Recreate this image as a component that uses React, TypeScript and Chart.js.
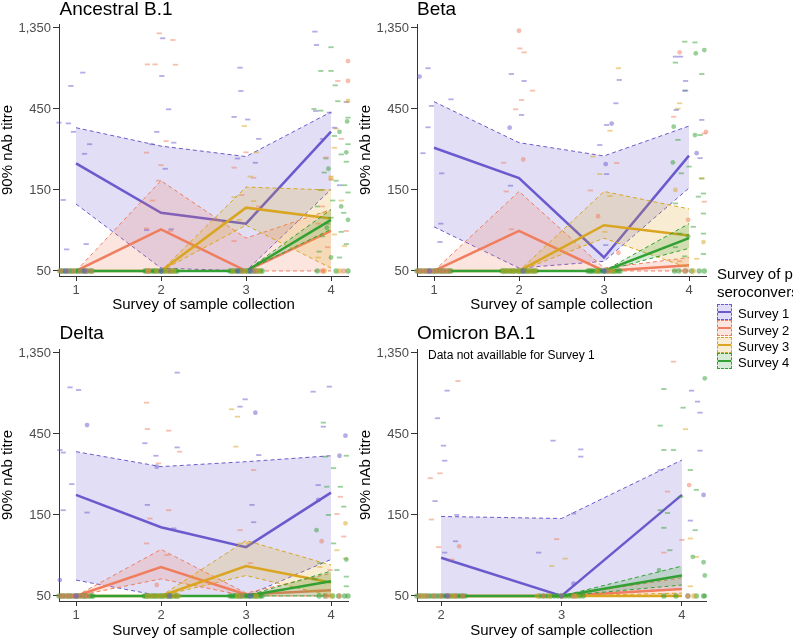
import React, { useEffect, useRef } from 'react';
import { Chart, registerables } from 'chart.js';

Chart.register(...registerables);

const FONT = '"Liberation Sans", Arial, Helvetica, sans-serif';

// ---------- shared labels / ticks ----------
const surveyLabels = ['Survey 1', 'Survey 2', 'Survey 3', 'Survey 4'];
const surveyRGB = ['106,90,205', '240,126,94', '218,165,32', '51,160,51'];
const yTicks = [50, 150, 450, 1350];
const catsFull = [1, 2, 3, 4];
const catsOmicron = [2, 3, 4];
const yMin = 46.7;
const yMax = 1425;

// ---------- Ancestral B.1 ----------
const ancestralMedian = [[215, 110, 95, 331], [50, 88, 50, 86], [50, 50, 118, 102], [50, 50, 50, 100]];
const ancestralUpper = [[349, 272, 236, 432], [50, 170, 78, 115], [50, 50, 156, 150], [50, 50, 50, 115]];
const ancestralLower = [[124, 52, 50, 151], [50, 50, 50, 50], [50, 50, 93, 52], [50, 50, 50, 88]];
const ancestralDashes: [number, number][][] = [
  [[0.80, 374], [0.85, 131], [0.89, 67], [0.91, 370], [0.94, 615], [1.08, 737], [1.12, 72], [1.16, 279], [1.10, 245], [0.97, 330], [1.83, 87], [1.89, 279], [2.01, 704], [2.02, 1174], [2.09, 448], [2.12, 88], [2.15, 285], [1.95, 330], [2.05, 200], [2.86, 404], [2.93, 788], [2.94, 574], [3.02, 390], [3.11, 217], [3.15, 300], [2.90, 230], [3.81, 1285], [3.83, 1072], [3.82, 438], [3.98, 428], [4.04, 349], [4.18, 495], [3.90, 300], [4.10, 160]],
  [[1.84, 824], [1.93, 824], [1.98, 1255], [2.14, 1147], [2.17, 820], [2.06, 291], [1.83, 249], [1.97, 170], [2.11, 86], [1.83, 89], [1.90, 130], [2.00, 210], [2.86, 203], [3.09, 177], [2.86, 75], [3.00, 250], [3.15, 120], [2.95, 140], [4.08, 658], [3.94, 233], [4.00, 173], [4.18, 86], [3.96, 69], [3.90, 120], [4.12, 300], [3.85, 95]],
  [[2.98, 357], [3.09, 129], [2.86, 136], [3.05, 180], [2.92, 100], [3.12, 250], [4.06, 345], [4.04, 266], [4.00, 180], [3.88, 150], [4.04, 82], [4.16, 70], [3.92, 110], [4.12, 130], [3.85, 60]],
  [[4.00, 1040], [3.88, 754], [4.00, 754], [4.08, 500], [3.88, 440], [4.20, 400], [4.04, 312], [4.20, 279], [4.12, 243], [3.94, 230], [4.18, 220], [3.88, 150], [4.20, 145], [4.00, 103], [4.12, 85], [4.18, 72], [3.92, 190], [4.06, 170], [3.84, 120], [3.96, 95], [4.15, 110], [3.90, 80], [4.10, 60], [4.02, 130], [3.86, 65], [4.16, 160], [3.80, 450], [4.05, 620]],
];
const ancestralCircles: [number, number, number][] = [
  [1, 4.20, 862], [1, 4.20, 658], [2, 4.20, 502], [2, 4.00, 175], [3, 3.97, 200], [3, 4.10, 330], [3, 4.18, 250], [3, 3.95, 90], [3, 4.12, 120], [3, 4.20, 100], [3, 4.00, 60], [3, 4.19, 380],
];
const ancestralBaseline = [
  [0.88, 1.10, 2.00, 2.90, 3.05],
  [0.82, 0.90, 0.97, 1.05, 1.12, 1.18, 1.85, 2.10, 2.95, 3.10, 3.90, 4.15],
  [1.85, 1.95, 2.05, 2.15, 2.85, 3.00, 3.15, 3.92, 4.10],
  [0.81, 0.83, 0.85, 0.87, 0.90, 0.92, 0.94, 0.96, 0.99, 1.01, 1.03, 1.05, 1.08, 1.10, 1.12, 1.14, 1.17, 1.19, 1.81, 1.83, 1.85, 1.87, 1.90, 1.92, 1.94, 1.96, 1.99, 2.01, 2.03, 2.05, 2.08, 2.10, 2.12, 2.14, 2.17, 2.19, 2.81, 2.83, 2.85, 2.87, 2.90, 2.92, 2.94, 2.96, 2.99, 3.01, 3.03, 3.05, 3.08, 3.10, 3.12, 3.14, 3.17, 3.19, 3.84, 4.06, 4.20],
];

// ---------- Beta ----------
const betaMedian = [[266, 176, 60, 239], [50, 86, 50, 54], [50, 50, 93, 81], [50, 50, 50, 78]];
const betaUpper = [[497, 285, 238, 357], [50, 147, 52, 60], [50, 50, 147, 116], [50, 50, 50, 95]];
const betaLower = [[91, 52, 57, 154], [50, 50, 50, 50], [50, 50, 78, 52], [50, 50, 50, 68]];
const betaDashes: [number, number][][] = [
  [[0.93, 782], [0.97, 469], [0.87, 247], [0.93, 351], [1.09, 188], [1.08, 95], [1.07, 74], [1.20, 513], [1.91, 723], [2.06, 658], [2.03, 415], [1.90, 159], [2.95, 276], [3.03, 362], [3.14, 486], [3.18, 667], [3.03, 186], [3.02, 71], [3.84, 915], [3.90, 915], [3.96, 658], [4.13, 231], [4.15, 388], [3.95, 577], [3.85, 444]],
  [[2.01, 1023], [2.06, 970], [2.16, 577], [2.03, 508], [1.96, 448], [1.82, 217], [1.85, 147], [1.91, 88], [2.84, 149], [3.15, 216], [3.82, 405], [4.18, 323], [4.18, 128], [3.89, 57]],
  [[3.17, 782], [3.07, 335], [2.95, 186], [3.07, 138], [3.01, 85], [3.89, 486], [3.87, 452], [4.15, 176], [4.09, 59], [2.87, 236]],
  [[3.95, 1121], [4.07, 1110], [3.84, 844], [4.15, 723], [3.96, 577], [4.13, 316], [3.87, 296], [3.91, 188], [4.15, 175], [4.17, 143], [3.84, 125], [4.17, 109], [4.05, 91], [4.17, 83], [3.89, 83], [4.17, 63], [3.84, 69], [3.95, 61], [4.11, 137], [4.00, 206]],
];
const betaCircles: [number, number, number][] = [
  [0, 0.83, 698], [0, 1.89, 349], [0, 3.09, 369], [0, 3.02, 213], [0, 4.09, 247],
  [1, 2.00, 1300], [1, 2.05, 227], [1, 2.93, 105], [1, 3.17, 64], [1, 3.89, 970], [1, 3.99, 100], [1, 4.20, 330],
  [2, 3.84, 150], [2, 4.17, 74],
  [3, 4.18, 1001], [3, 4.08, 957], [3, 3.82, 354], [3, 4.07, 316], [3, 3.81, 218], [3, 3.99, 80],
];
const betaBaseline = [
  [0.95, 2.05, 3.00],
  [0.81, 0.85, 0.89, 0.93, 0.97, 1.01, 1.05, 1.09, 1.13, 1.17, 3.05, 3.95],
  [1.82, 1.88, 1.94, 2.00, 2.06, 2.12, 2.18, 2.92, 3.10, 4.05],
  [0.80, 0.82, 0.84, 0.86, 0.89, 0.91, 0.93, 0.95, 0.98, 1.00, 1.02, 1.04, 1.07, 1.09, 1.11, 1.13, 1.16, 1.18, 1.20, 1.80, 1.82, 1.84, 1.86, 1.89, 1.91, 1.93, 1.95, 1.98, 2.00, 2.02, 2.04, 2.07, 2.09, 2.11, 2.13, 2.16, 2.18, 2.20, 2.81, 2.83, 2.85, 2.87, 2.90, 2.92, 2.94, 2.96, 2.99, 3.01, 3.03, 3.05, 3.08, 3.10, 3.12, 3.14, 3.17, 3.19, 3.83, 3.88, 3.96, 4.03, 4.12, 4.18],
];

// ---------- Delta ----------
const deltaMedian = [[197, 127, 97, 203], [50, 74, 51, 54], [50, 50, 75, 60], [50, 50, 50, 61]];
const deltaUpper = [[354, 289, 309, 335], [50, 94, 52, 68], [50, 50, 106, 76], [50, 50, 50, 70]];
const deltaLower = [[62, 50, 50, 82], [50, 63, 50, 50], [50, 50, 66, 50], [50, 50, 50, 50]];
const deltaDashes: [number, number][][] = [
  [[0.93, 847], [1.03, 817], [0.81, 362], [0.85, 350], [0.95, 228], [0.85, 160], [1.13, 155], [2.19, 1034], [1.81, 397], [1.94, 335], [2.19, 375], [1.84, 172], [2.15, 125], [2.99, 720], [2.93, 652], [3.15, 338], [3.07, 172], [3.09, 136], [3.79, 799], [3.98, 855], [3.91, 497], [3.85, 225]],
  [[1.83, 688], [1.84, 481], [2.09, 471], [2.22, 354], [1.97, 302], [2.09, 160], [1.87, 143], [2.07, 87], [1.83, 102], [2.93, 122], [3.09, 276], [3.05, 78], [4.07, 152], [4.11, 192], [4.15, 112], [3.99, 71]],
  [[2.83, 629], [2.90, 569], [2.88, 379], [2.93, 102], [3.03, 102], [4.07, 93], [4.17, 83], [3.87, 74]],
  [[3.91, 525], [3.93, 331], [4.18, 335], [4.03, 283], [3.95, 220], [4.11, 220], [4.03, 102], [3.97, 150], [4.15, 168], [4.18, 65], [3.87, 78], [4.07, 71], [4.18, 57], [3.81, 63]],
];
const deltaCircles: [number, number, number][] = [
  [0, 1.13, 508], [0, 0.81, 62], [0, 1.95, 289], [0, 3.11, 601], [0, 4.10, 335], [0, 4.17, 440], [0, 3.85, 184],
  [1, 1.95, 58], [1, 3.89, 105],
  [2, 4.17, 134],
  [3, 3.83, 122], [3, 4.18, 82],
];
const deltaBaseline = [
  [1.00, 2.10, 3.05],
  [0.82, 0.86, 0.90, 0.94, 0.98, 1.02, 1.06, 1.10, 1.14, 2.95, 3.95, 4.10],
  [1.84, 1.90, 1.96, 2.02, 2.08, 2.14, 2.20, 2.90, 3.12, 4.00],
  [0.80, 0.82, 0.84, 0.86, 0.89, 0.91, 0.93, 0.95, 0.98, 1.00, 1.02, 1.04, 1.07, 1.09, 1.11, 1.13, 1.16, 1.18, 1.20, 1.80, 1.82, 1.84, 1.86, 1.89, 1.91, 1.93, 1.95, 1.98, 2.00, 2.02, 2.04, 2.07, 2.09, 2.11, 2.13, 2.16, 2.18, 2.20, 2.81, 2.83, 2.85, 2.87, 2.90, 2.92, 2.94, 2.96, 2.99, 3.01, 3.03, 3.05, 3.08, 3.10, 3.12, 3.14, 3.17, 3.19, 3.86, 3.93, 4.02, 4.09, 4.16, 4.20],
];

// ---------- Omicron BA.1 ----------
const omicronMedian = [[84, 50, 197], [50, 50, 55], [50, 50, 50], [50, 50, 66]];
const omicronUpper = [[147, 143, 316], [50, 50, 64], [50, 50, 52], [50, 50, 75]];
const omicronLower = [[50, 50, 55], [50, 50, 50], [50, 50, 50], [50, 50, 58]];
const omicronDashes: [number, number][][] = [
  [[2.05, 810], [1.97, 557], [2.02, 384], [2.03, 313], [1.95, 181], [2.13, 150], [2.12, 105], [2.03, 90], [2.93, 411], [3.16, 365], [3.16, 331], [3.10, 153], [2.81, 90], [4.08, 810], [4.13, 698], [4.15, 601], [4.15, 359], [3.82, 276], [4.07, 139]],
  [[2.14, 923], [1.91, 247], [1.99, 264], [1.92, 141], [1.98, 97], [2.09, 82], [2.96, 108], [3.93, 1200], [3.88, 206], [4.00, 107], [3.85, 90]],
  [[2.92, 75], [3.03, 83], [4.03, 480], [4.07, 109], [4.12, 85], [4.07, 57]],
  [[3.85, 829], [4.01, 643], [3.82, 504], [3.85, 362], [3.93, 362], [4.07, 276], [4.12, 211], [3.99, 192], [3.82, 160], [3.88, 154], [4.11, 122], [3.85, 126], [3.90, 93]],
];
const omicronCircles: [number, number, number][] = [
  [0, 3.10, 59], [0, 4.18, 197],
  [1, 2.15, 98], [1, 4.06, 225],
  [3, 4.19, 957], [3, 4.09, 85], [3, 4.18, 79], [3, 3.81, 71], [3, 4.19, 66], [3, 4.19, 50],
];
const omicronBaseline = [
  [2.05, 3.00],
  [1.82, 1.88, 1.94, 2.00, 2.06, 2.12, 2.18, 2.85, 3.10, 4.05],
  [1.85, 2.10, 2.80, 2.90, 3.00, 3.12, 4.10],
  [1.80, 1.82, 1.84, 1.86, 1.88, 1.90, 1.92, 1.94, 1.96, 1.98, 2.00, 2.02, 2.04, 2.06, 2.08, 2.10, 2.12, 2.14, 2.16, 2.18, 2.20, 2.82, 2.85, 2.88, 2.91, 2.94, 2.97, 3.00, 3.03, 3.06, 3.09, 3.12, 3.15, 3.18, 3.85, 3.95, 4.05, 4.12, 4.18],
];

function rgba(s: number, a: number): string {
  return `rgba(${surveyRGB[s]},${a})`;
}

function fmtTick(v: number): string {
  return String(Math.round(v)).replace(/\B(?=(\d{3})+(?!\d))/g, ',');
}

interface PanelProps {
  left: number;
  top: number;
  width: number;
  height: number;
  cats: number[];
  xMin: number;
  xMax: number;
  median: number[][];
  upper: number[][];
  lower: number[][];
  dashes: [number, number][][];
  circles: [number, number, number][];
  baseline: number[][];
}

function Panel(p: PanelProps) {
  const ref = useRef<HTMLCanvasElement | null>(null);
  useEffect(() => {
    const canvas = ref.current;
    if (!canvas) return;
    const datasets: any[] = [];
    for (let s = 0; s < 4; s++) {
      const mk = (vals: number[]) => p.cats.map((x, i) => ({ x, y: vals[i] }));
      datasets.push({
        label: surveyLabels[s] + ' upper', data: mk(p.upper[s]),
        borderColor: rgba(s, 1), borderWidth: 1, borderDash: [4, 3],
        backgroundColor: rgba(s, 0.2), fill: '+1', pointRadius: 0, tension: 0,
        order: 50 - s * 3,
      });
      datasets.push({
        label: surveyLabels[s] + ' lower', data: mk(p.lower[s]),
        borderColor: rgba(s, 1), borderWidth: 1, borderDash: [4, 3],
        fill: false, pointRadius: 0, tension: 0, order: 49 - s * 3,
      });
      datasets.push({
        label: surveyLabels[s] + ' median', data: mk(p.median[s]),
        borderColor: rgba(s, 1), borderWidth: 2.5, fill: false,
        pointRadius: 0, tension: 0, order: 48 - s * 3,
      });
    }
    for (let s = 0; s < 4; s++) {
      datasets.push({
        label: surveyLabels[s] + ' points', data: p.dashes[s].map(([x, y]) => ({ x, y })),
        showLine: false, pointStyle: 'line', pointRadius: 2.6, pointBorderWidth: 1.8,
        pointBorderColor: rgba(s, 0.5), pointBackgroundColor: rgba(s, 0.5),
        clip: false, order: 5,
      });
      datasets.push({
        label: surveyLabels[s] + ' circles',
        data: p.circles.filter((c) => c[0] === s).map((c) => ({ x: c[1], y: c[2] })),
        showLine: false, pointStyle: 'circle', pointRadius: 2.4, pointBorderWidth: 0,
        pointBorderColor: rgba(s, 0), pointBackgroundColor: rgba(s, 0.5),
        clip: false, order: 4,
      });
      datasets.push({
        label: surveyLabels[s] + ' at floor',
        data: p.baseline[s].map((x) => ({ x, y: 50 })),
        showLine: false, pointStyle: 'circle', pointRadius: 2.7, pointBorderWidth: 0,
        pointBorderColor: rgba(s, 0), pointBackgroundColor: rgba(s, 0.55),
        clip: false, order: 3,
      });
    }
    const chart = new Chart(canvas, {
      type: 'line',
      data: { datasets },
      options: {
        animation: false,
        responsive: false,
        maintainAspectRatio: false,
        devicePixelRatio: 1,
        events: [],
        layout: { padding: { top: 24, left: 0, right: p.width - 348, bottom: 0 } },
        plugins: { legend: { display: false }, tooltip: { enabled: false }, title: { display: false } },
        scales: {
          x: {
            type: 'linear', min: p.xMin, max: p.xMax,
            afterBuildTicks: (sc: any) => { sc.ticks = p.cats.map((v) => ({ value: v })); },
            afterFit: (sc: any) => { sc.height = p.height - 276; },
            ticks: { color: '#4d4d4d', font: { family: FONT, size: 13 }, padding: 2, maxRotation: 0, autoSkip: false },
            grid: { display: true, drawOnChartArea: false, drawTicks: true, tickLength: 5, color: '#333333' },
            border: { display: true, color: '#333333', width: 1 },
            title: { display: true, text: 'Survey of sample collection', color: '#000000', font: { family: FONT, size: 15, lineHeight: 1 }, padding: 0 },
          },
          y: {
            type: 'logarithmic', min: yMin, max: yMax,
            afterBuildTicks: (sc: any) => { sc.ticks = yTicks.map((v) => ({ value: v })); },
            afterFit: (sc: any) => { sc.width = 59; },
            ticks: { color: '#4d4d4d', font: { family: FONT, size: 13 }, padding: 2, autoSkip: false, callback: (v: any) => fmtTick(Number(v)) },
            grid: { display: true, drawOnChartArea: false, drawTicks: true, tickLength: 6, color: '#333333' },
            border: { display: true, color: '#333333', width: 1 },
            title: { display: true, text: '90% nAb titre', color: '#000000', font: { family: FONT, size: 15, lineHeight: 1.05 }, padding: 0 },
          },
        },
      } as any,
    });
    return () => chart.destroy();
  }, []);
  return (
    <canvas
      ref={ref}
      width={p.width}
      height={p.height}
      style={{ position: 'absolute', left: p.left, top: p.top, width: p.width, height: p.height, display: 'block' }}
    />
  );
}

const titleStyle: React.CSSProperties = {
  position: 'absolute', fontSize: 19, lineHeight: '19px', color: '#000', whiteSpace: 'nowrap',
};

export default function App() {
  return (
    <div style={{ position: 'fixed', left: 0, top: 0, width: 793, height: 639, overflow: 'hidden', background: '#ffffff', fontFamily: FONT }}>
      <Panel left={0} top={0} width={360} height={312} cats={catsFull} xMin={0.8} xMax={4.2}
        median={ancestralMedian} upper={ancestralUpper} lower={ancestralLower}
        dashes={ancestralDashes} circles={ancestralCircles} baseline={ancestralBaseline} />
      <Panel left={358} top={0} width={360} height={312} cats={catsFull} xMin={0.8} xMax={4.2}
        median={betaMedian} upper={betaUpper} lower={betaLower}
        dashes={betaDashes} circles={betaCircles} baseline={betaBaseline} />
      <Panel left={0} top={325} width={360} height={313} cats={catsFull} xMin={0.8} xMax={4.2}
        median={deltaMedian} upper={deltaUpper} lower={deltaLower}
        dashes={deltaDashes} circles={deltaCircles} baseline={deltaBaseline} />
      <Panel left={358} top={325} width={360} height={313} cats={catsOmicron} xMin={1.8} xMax={4.2}
        median={omicronMedian} upper={omicronUpper} lower={omicronLower}
        dashes={omicronDashes} circles={omicronCircles} baseline={omicronBaseline} />

      <div style={{ ...titleStyle, left: 59.5, top: -1 }}>Ancestral B.1</div>
      <div style={{ ...titleStyle, left: 417, top: -1 }}>Beta</div>
      <div style={{ ...titleStyle, left: 59.5, top: 322.5 }}>Delta</div>
      <div style={{ ...titleStyle, left: 417, top: 322.5 }}>Omicron BA.1</div>

      <div style={{ position: 'absolute', left: 428, top: 347.5, fontSize: 12, lineHeight: '14px', color: '#000', whiteSpace: 'nowrap' }}>
        Data not availlable for Survey 1
      </div>

      <div style={{ position: 'absolute', left: 717, top: 264.5, fontSize: 15, lineHeight: '18px', color: '#000', whiteSpace: 'nowrap' }}>
        <div>Survey of primary</div>
        <div>seroconversion</div>
      </div>
      {surveyLabels.map((lab, i) => (
        <React.Fragment key={lab}>
          <div style={{
            position: 'absolute', left: 717, top: 304 + i * 16.4, width: 15, height: 16, boxSizing: 'border-box',
            border: `1px dashed ${rgba(i, 1)}`, background: rgba(i, 0.2),
          }}>
            <div style={{ position: 'absolute', left: 0, right: 0, top: 6, height: 2, background: rgba(i, 1) }} />
          </div>
          <div style={{ position: 'absolute', left: 738, top: 306.1 + i * 16.4, fontSize: 13, lineHeight: '16px', color: '#000', whiteSpace: 'nowrap' }}>
            {lab}
          </div>
        </React.Fragment>
      ))}
    </div>
  );
}
